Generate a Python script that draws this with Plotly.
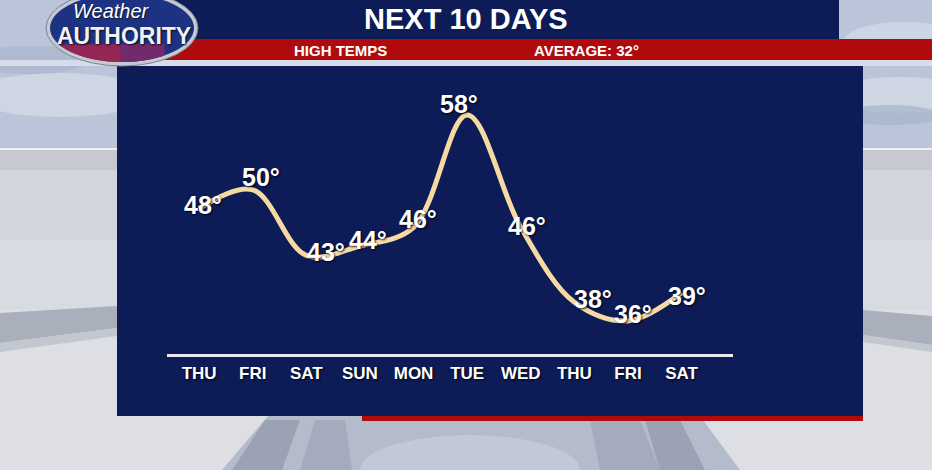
import math
import plotly.graph_objects as go

# ---------------- data ----------------
days = ["THU", "FRI", "SAT", "SUN", "MON", "TUE", "WED", "THU", "FRI", "SAT"]
high_temps = [48, 50, 43, 44, 46, 58, 46, 38, 36, 39]
title_text = "NEXT 10 DAYS"
subtitle_left = "HIGH TEMPS"
subtitle_right = "AVERAGE: 32°"

# label nudges (pixels) for the value labels
label_dx = [4, 8, 20, 8, 4, -8, 6, 19, 5, 5]
label_dy = [4, 13, 3, 6, 8, 11, 1, 3, 7, -3]

W, H = 932, 470
FONT = "Liberation Sans, Arial, Helvetica, sans-serif"
NAVY = "#0d1b56"
RED = "#b00a0c"


def px(x):
    return x / W


def py(y):
    return 1 - y / H


def rect(x0, y0, x1, y1, color, opacity=1.0, line=None):
    return dict(type="rect", xref="paper", yref="paper", layer="below",
                x0=px(x0), x1=px(x1), y0=py(y1), y1=py(y0),
                fillcolor=color, opacity=opacity,
                line=dict(width=0) if line is None else line)


def poly(pts, color, opacity=1.0):
    path = "M " + " L ".join(f"{px(a):.5f},{py(b):.5f}" for a, b in pts) + " Z"
    return dict(type="path", xref="paper", yref="paper", layer="below",
                path=path, fillcolor=color, opacity=opacity, line=dict(width=0))


def ellipse(cx, cy, rx, ry, color, line=None, opacity=1.0):
    return dict(type="circle", xref="paper", yref="paper", layer="below",
                x0=px(cx - rx), x1=px(cx + rx), y0=py(cy + ry), y1=py(cy - ry),
                fillcolor=color, opacity=opacity,
                line=dict(width=0) if line is None else line)


shapes = []
# ---- background (sky / studio) ----
shapes.append(rect(0, 0, W, 150, "#bac5d9"))
shapes.append(ellipse(60, 95, 90, 22, "#d3dae6", opacity=0.8))
shapes.append(ellipse(900, 95, 70, 18, "#d3dae6", opacity=0.8))
shapes.append(ellipse(30, 60, 60, 14, "#a9b5cc", opacity=0.7))
shapes.append(ellipse(905, 40, 60, 18, "#cfd8e8", opacity=0.8))
shapes.append(ellipse(890, 115, 50, 10, "#a7b3ca", opacity=0.7))
shapes.append(rect(0, 148, W, 170, "#c6c9d0"))
shapes.append(rect(0, 148, W, 150, "#eef0f3"))
shapes.append(rect(0, 170, W, 310, "#d0d5de"))
shapes.append(rect(0, 240, W, 310, "#d7dbe2"))
shapes.append(rect(0, 310, W, H, "#dddfe4"))
shapes.append(poly([(0, 313), (117, 306), (117, 328), (0, 343)], "#a9afbb"))
shapes.append(poly([(863, 310), (W, 316), (W, 345), (863, 335)], "#a9afbb"))
shapes.append(poly([(0, 343), (117, 328), (117, 336), (0, 352)], "#c3c7cf"))
shapes.append(poly([(863, 335), (W, 345), (W, 352), (863, 342)], "#c3c7cf"))
# bottom studio floor stripes
shapes.append(poly([(222, H), (268, 416), (700, 416), (740, H)], "#b4bbcb"))
shapes.append(poly([(232, H), (265, 420), (300, 420), (282, H)], "#9aa2b4"))
shapes.append(poly([(300, H), (315, 420), (345, 420), (352, H)], "#a4abbd"))
shapes.append(poly([(600, H), (590, 420), (640, 420), (660, H)], "#a4abbd"))
shapes.append(poly([(660, H), (645, 420), (680, 420), (705, H)], "#9aa2b4"))
shapes.append(ellipse(470, 470, 110, 35, "#c6ccda", opacity=0.8))

# ---- graphic panels ----
shapes.append(rect(0, 60, W, 66, "#d6dcea"))
shapes.append(rect(117, 66, 863, 416, NAVY))
shapes.append(rect(362, 416, 863, 421, RED))
shapes.append(rect(150, 0, 839, 39, NAVY))
shapes.append(rect(150, 39, W, 60, RED))

# ---- logo ----
cx, cy, rx, ry = 122, 28, 76, 38
shapes.append(ellipse(cx, cy, rx, ry, "#c5c9d1", line=dict(color="#7d8492", width=1)))
shapes.append(ellipse(cx, cy, rx - 4, ry - 4, "#1d3283"))
irx, iry = rx - 4, ry - 4
ycut = 44
pts = []
for k in range(0, 101):
    th = math.pi * (0.5 + k / 100.0 * 0.5)
    x = cx + irx * math.cos(th)
    y = cy + iry * math.sin(th)
    if y >= ycut:
        pts.append((x, y))
pts = pts[::-1]
for k in range(0, 41):
    th = math.pi * (0.5 - k / 100.0 * 0.5)
    pts.append((cx + irx * math.cos(th), cy + iry * math.sin(th)))
pts.append((pts[-1][0], ycut))
shapes.append(poly(pts, "#a3244f", opacity=0.9))
shapes.append(poly([p for p in pts if p[0] > 120] + [(120, ycut)], "#5a2f7c", opacity=0.6))

# ---------------- figure ----------------
fig = go.Figure()
xs = list(range(len(days)))
fig.add_trace(go.Scatter(
    x=xs, y=high_temps, mode="lines",
    line=dict(shape="spline", smoothing=1.0, color="#f7d9a2", width=5),
    hoverinfo="skip", showlegend=False,
))

SHADOW = "1px 1px 2px rgba(0,0,0,0.85)"
annotations = []
for i, t in enumerate(high_temps):
    annotations.append(dict(
        x=xs[i], y=t, xref="x", yref="y", text=f"{t}°", showarrow=False,
        xshift=label_dx[i], yshift=label_dy[i],
        font=dict(family=FONT, size=25, color="white", weight="bold", shadow=SHADOW),
    ))

annotations += [
    dict(x=px(466), y=py(19), xref="paper", yref="paper", text=title_text,
         showarrow=False, xanchor="center", yanchor="middle",
         font=dict(family=FONT, size=29, color="white", weight="bold")),
    dict(x=px(340), y=py(50), xref="paper", yref="paper", text=subtitle_left,
         showarrow=False, xanchor="center", yanchor="middle",
         font=dict(family=FONT, size=15, color="white", weight="bold")),
    dict(x=px(586), y=py(50), xref="paper", yref="paper", text=subtitle_right,
         showarrow=False, xanchor="center", yanchor="middle",
         font=dict(family=FONT, size=15, color="white", weight="bold")),
    dict(x=px(111), y=py(11), xref="paper", yref="paper", text="<i>Weather</i>",
         showarrow=False, xanchor="center", yanchor="middle",
         font=dict(family=FONT, size=20, color="white",
                   shadow="1px 1px 1px rgba(0,0,0,0.6)")),
    dict(x=px(124), y=py(36), xref="paper", yref="paper", text="AUTHORITY",
         showarrow=False, xanchor="center", yanchor="middle",
         font=dict(family=FONT, size=23, color="#f1f1f3", weight="bold",
                   shadow="1px 1px 2px rgba(0,0,0,0.8)")),
]

fig.update_layout(
    width=W, height=H, margin=dict(l=0, r=0, t=0, b=0),
    paper_bgcolor="#cfd5df", plot_bgcolor="rgba(0,0,0,0)",
    shapes=shapes, annotations=annotations, showlegend=False,
    xaxis=dict(
        domain=[px(167), px(733)], range=[-0.6, 9.96],
        tickmode="array", tickvals=xs, ticktext=days,
        showgrid=False, zeroline=False, showline=True,
        linecolor="#e9e9ef", linewidth=2.5,
        ticks="outside", ticklen=2, tickcolor="rgba(0,0,0,0)",
        tickfont=dict(family=FONT, size=17, color="white", weight="bold", shadow=SHADOW),
        fixedrange=True,
    ),
    yaxis=dict(
        domain=[py(354), py(70)], range=[32.47, 62.8],
        showgrid=False, zeroline=False, showline=False, showticklabels=False,
        fixedrange=True,
    ),
)

fig.write_html("out.html", config={"displayModeBar": False},
               post_script="document.body.style.margin='0';document.body.style.overflow='hidden';")
